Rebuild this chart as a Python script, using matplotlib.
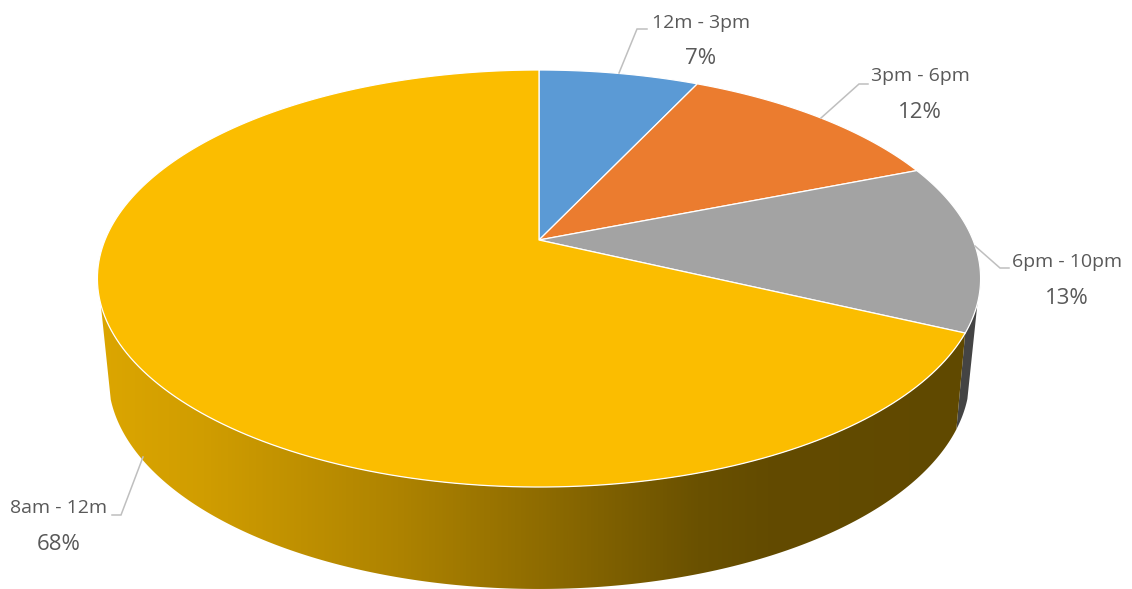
import numpy as np
import matplotlib
matplotlib.use("Agg")
import matplotlib.pyplot as plt
from matplotlib.patches import Polygon
from matplotlib.colors import LinearSegmentedColormap

# ---- data ----
categories = ["12m - 3pm", "3pm - 6pm", "6pm - 10pm", "8am - 12m"]
shares = [7, 12, 13, 68]
top_colors = ["#5B9AD5", "#EB7C2F", "#A3A3A3", "#FBBD00"]

# ---- styling / projection ----
W, H = 1132, 589
plt.rcParams["font.family"] = ["Open Sans", "DejaVu Sans"]
TEXT = "#595959"
LEADER = "#BFBFBF"
CX = 539
TOP = dict(y0=240.0, a=434.0, b=201.4, k=0.1847)
BOT = dict(y0=334.6, a=422.0, b=203.5, k=0.20)
SIL_R, SIL_L = 107.3, 252.5  # silhouette angles of the side wall


def rim(theta_deg, p):
    t = np.radians(theta_deg)
    d = 1 + p["k"] * np.cos(t)
    return CX + p["a"] * np.sin(t) / d, p["y0"] - p["b"] * np.cos(t) / d


def wall_poly(t0, t1):
    th = np.linspace(t0, t1, 200)
    xt, yt = rim(th, TOP)
    xb, yb = rim(th[::-1], BOT)
    return np.column_stack([np.r_[xt, xb], np.r_[yt, yb]])


fig = plt.figure(figsize=(W / 100, H / 100), dpi=100)
ax = fig.add_axes([0, 0, 1, 1])

bounds = np.r_[0, np.cumsum(shares)] * 3.6

# side walls
wall_cmap = LinearSegmentedColormap.from_list(
    "wall",
    [(0.00, "#DCA600"), (0.12, "#D09D00"), (0.34, "#AE8300"), (0.50, "#8F6C00"),
     (0.68, "#6A5100"), (0.76, "#634B00"), (1.00, "#604900")],
)
grey_wall = Polygon(wall_poly(SIL_R, bounds[3]), closed=True, fc="#444444", ec="none", zorder=1)
ax.add_patch(grey_wall)
grad = np.linspace(0, 1, 512)[None, :]
im = ax.imshow(grad, cmap=wall_cmap, extent=(97, 981, H, 250), aspect="auto", zorder=2)
yellow_wall = Polygon(wall_poly(bounds[3], SIL_L), closed=True, fc="none", ec="none",
                      transform=ax.transData, zorder=2)
ax.add_patch(yellow_wall)
im.set_clip_path(yellow_wall)

# top face
for i, c in enumerate(top_colors):
    th = np.linspace(bounds[i], bounds[i + 1], 200)
    x, y = rim(th, TOP)
    pts = np.column_stack([np.r_[CX, x], np.r_[TOP["y0"], y]])
    ax.add_patch(Polygon(pts, closed=True, fc=c, ec="#FFFFFF", lw=0.9, alpha=1,
                         joinstyle="round", zorder=3))

# labels
label_pos = [(701, 23, 58), (920, 76, 113), (1067, 262, 298), (59, 508, 544)]
leaders = [
    [(619, 73), (637, 29), (647, 29)],
    [(821, 118), (859, 84), (868, 84)],
    [(975, 246), (1000, 268), (1009, 268)],
    [(143, 457), (121, 515), (112, 515)],
]
for cat, val, (lx, y1, y2), ld in zip(categories, shares, label_pos, leaders):
    ax.text(lx, y1, cat, ha="center", va="center", fontsize=14, color=TEXT)
    ax.text(lx, y2, f"{val}%", ha="center", va="center", fontsize=16, color=TEXT)
    xs, ys = zip(*ld)
    ax.plot(xs, ys, color=LEADER, lw=1.1, zorder=4, solid_joinstyle="miter")

ax.set_xlim(0, W)
ax.set_ylim(H, 0)
ax.axis("off")
fig.savefig("out.png", dpi=100, facecolor="white")
